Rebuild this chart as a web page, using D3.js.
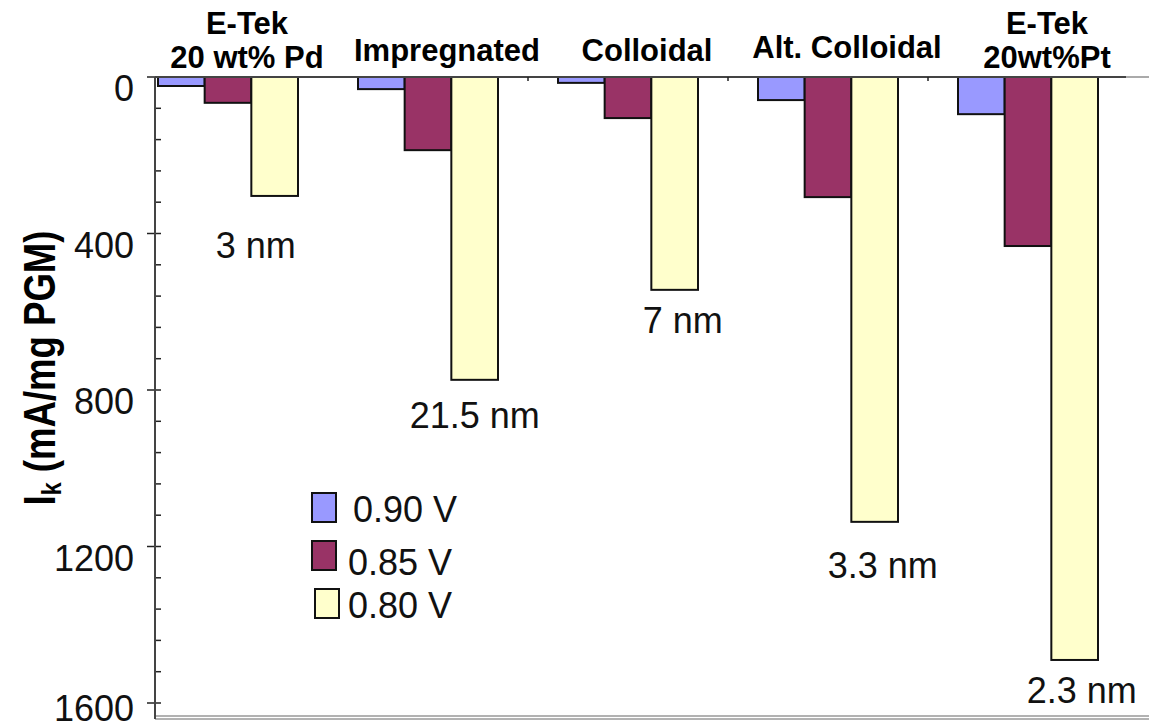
<!DOCTYPE html>
<html>
<head>
<meta charset="utf-8">
<script src="https://cdn.jsdelivr.net/npm/d3@7"></script>
<style>
  body { margin: 0; background: #fff; }
  svg { display: block; font-family: "Liberation Sans", Arial, sans-serif; }
</style>
</head>
<body>
<div id="chart"></div>
<script>
// data
var categories = [["E-Tek", "20 wt% Pd"], ["Impregnated"], ["Colloidal"], ["Alt. Colloidal"], ["E-Tek", "20wt%Pt"]];
var seriesNames = ["0.90 V", "0.85 V", "0.80 V"];
var v090 = [23, 31, 15, 59, 95];
var v085 = [66, 187, 105, 307, 432];
var v080 = [304, 774, 544, 1137, 1490];
var sizeLabels = ["3 nm", "21.5 nm", "7 nm", "3.3 nm", "2.3 nm"];
var yTicks = [0, 400, 800, 1200, 1600];

var colors = ["#9999ff", "#993366", "#ffffcc"];

var width = 1149, height = 723;
var axisX = 155, plotTop = 77, plotBottom = 703;

var svg = d3.select("#chart").append("svg")
    .attr("width", width)
    .attr("height", height);

// Scales
var yScale = d3.scaleLinear().domain([0, 1600]).range([plotTop, plotBottom]);
var xScale = d3.scaleBand()
    .domain(d3.range(categories.length))
    .range([128, 1128])
    .paddingInner(0.3)
    .paddingOuter(0.15);
var xSub = d3.scaleBand()
    .domain(d3.range(seriesNames.length))
    .range([0, xScale.bandwidth()]);

var table = categories.map(function (c, i) {
    return [v090[i], v085[i], v080[i]];
});

// bottom double line
svg.append("line").attr("x1", axisX).attr("x2", width).attr("y1", 716).attr("y2", 716)
    .attr("stroke", "#999").attr("stroke-width", 1.5);
svg.append("line").attr("x1", axisX).attr("x2", width).attr("y1", 719).attr("y2", 719)
    .attr("stroke", "#999").attr("stroke-width", 1.5);

// Y-axis (minor ticks inside, major crossing)
var minor = d3.range(0, 1601, 80);
svg.append("g").selectAll("line")
    .data(minor)
    .enter().append("line")
    .attr("x1", function (d) { return d % 400 === 0 ? axisX - 8 : axisX; })
    .attr("x2", axisX + 6)
    .attr("y1", function (d) { return yScale(d); })
    .attr("y2", function (d) { return yScale(d); })
    .attr("stroke", "#222").attr("stroke-width", 1.5);
svg.append("line").attr("x1", axisX).attr("x2", axisX).attr("y1", plotTop).attr("y2", 719)
    .attr("stroke", "#444").attr("stroke-width", 2);

svg.append("g").selectAll("text")
    .data(yTicks)
    .enter().append("text")
    .attr("x", 134)
    .attr("y", function (d) { return Math.min(yScale(d) + 24, height - 2); })
    .attr("text-anchor", "end")
    .attr("font-size", 36)
    .attr("fill", "#111")
    .text(function (d) { return d; });

// Y label
var ylab = svg.append("text")
    .attr("transform", "translate(55,368) rotate(-90)")
    .attr("text-anchor", "middle")
    .attr("font-size", 44)
    .attr("font-weight", "bold")
    .attr("textLength", 275)
    .attr("lengthAdjust", "spacingAndGlyphs");
ylab.append("tspan").text("I");
ylab.append("tspan").attr("font-size", 28).attr("dy", 6).text("k");
ylab.append("tspan").attr("dy", -6).text(" (mA/mg PGM)");

// Bars
var groups = svg.append("g").selectAll("g")
    .data(table)
    .enter().append("g")
    .attr("transform", function (d, i) { return "translate(" + xScale(i) + ",0)"; });

groups.selectAll("rect")
    .data(function (d) { return d; })
    .enter().append("rect")
    .attr("x", function (d, j) { return xSub(j); })
    .attr("y", yScale(0))
    .attr("width", xSub.bandwidth())
    .attr("height", function (d) { return yScale(d) - yScale(0); })
    .attr("fill", function (d, j) { return colors[j]; })
    .attr("stroke", "#111")
    .attr("stroke-width", 2);

// top axis line + small ticks between groups
svg.append("line").attr("x1", axisX).attr("x2", 1126).attr("y1", plotTop).attr("y2", plotTop)
    .attr("stroke", "#444").attr("stroke-width", 2);
svg.append("line").attr("x1", 1126).attr("x2", width).attr("y1", plotTop).attr("y2", plotTop)
    .attr("stroke", "#aaa").attr("stroke-width", 2);
svg.append("g").selectAll("line")
    .data(d3.range(2, categories.length))
    .enter().append("line")
    .attr("x1", function (i) { return xScale(i) - xScale.step() * 0.15; })
    .attr("x2", function (i) { return xScale(i) - xScale.step() * 0.15; })
    .attr("y1", plotTop).attr("y2", plotTop + 4)
    .attr("stroke", "#222").attr("stroke-width", 1.5);

// category labels on top
var catText = svg.append("g").selectAll("text")
    .data(categories)
    .enter().append("text")
    .attr("text-anchor", "middle")
    .attr("font-size", 31)
    .attr("font-weight", "bold")
    .attr("fill", "#000")
    .attr("transform", function (d, i) {
        var cx = xScale(i) + xScale.bandwidth() / 2 + 19;
        var y = d.length === 2 ? 34 : (i === 3 ? 58 : 61);
        return "translate(" + cx + "," + y + ")";
    });
catText.selectAll("tspan")
    .data(function (d) { return d; })
    .enter().append("tspan")
    .attr("x", 0)
    .attr("dy", function (d, k) { return k === 0 ? 0 : 34; })
    .text(function (d) { return d; });

// particle size labels under the 0.80 V bars
var labelDx = [-19, 0, 8, 8, 7];
var labelDy = [62, 48, 43, 56, 43];
svg.append("g").selectAll("text")
    .data(sizeLabels)
    .enter().append("text")
    .attr("x", function (d, i) { return xScale(i) + xSub(2) + xSub.bandwidth() / 2 + labelDx[i]; })
    .attr("y", function (d, i) { return yScale(v080[i]) + labelDy[i]; })
    .attr("text-anchor", "middle")
    .attr("font-size", 36)
    .attr("fill", "#111")
    .text(function (d) { return d; });

// legend
var legend = svg.append("g").selectAll("g")
    .data(seriesNames)
    .enter().append("g")
    .attr("transform", function (d, i) { return "translate(312," + (493 + i * 48) + ")"; });
legend.append("rect")
    .attr("x", function (d, i) { return i === 2 ? 3 : 0; })
    .attr("width", 24)
    .attr("height", 29)
    .attr("fill", function (d, i) { return colors[i]; })
    .attr("stroke", "#111")
    .attr("stroke-width", 2);
legend.append("text")
    .attr("x", function (d, i) { return i === 0 ? 41 : 36; })
    .attr("y", function (d, i) { return [29, 34, 29][i]; })
    .attr("font-size", 36)
    .attr("fill", "#111")
    .text(function (d) { return d; });
</script>
</body>
</html>
